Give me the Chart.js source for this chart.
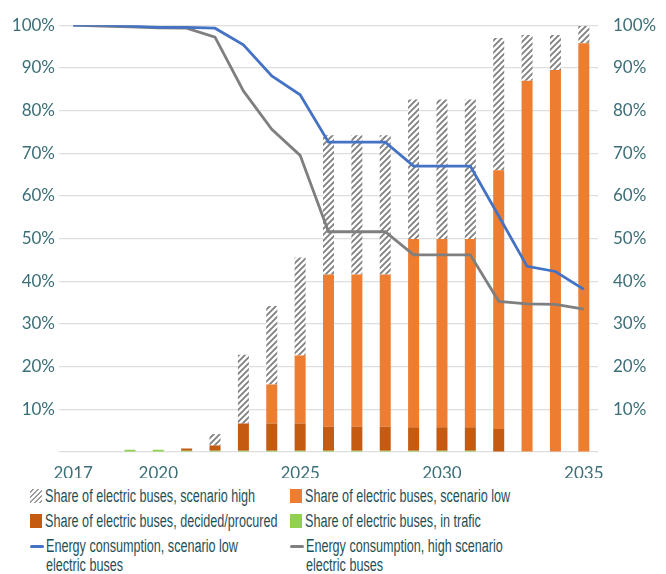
<!DOCTYPE html>
<html>
<head>
    <title>Electric buses and energy consumption</title>
    <script src="https://cdn.jsdelivr.net/npm/chart.js"></script>
    <style>
        body { margin: 0; background: #fff; }
        #wrap { position: relative; width: 666px; height: 478px; }
        #legend {
            display: grid;
            grid-template-columns: 260px 380px;
            margin-left: 30px;
            margin-top: 9px;
            row-gap: 6px;
            font-family: "Liberation Sans", sans-serif;
            font-size: 18px;
            color: #1f4f57;
            line-height: 19px;
        }
        .item { display: flex; align-items: flex-start; white-space: nowrap; }
        .txt { display: inline-block; transform: scaleX(0.7); transform-origin: left top; }
        .sw { flex: none; width: 12px; height: 14px; margin-right: 3px; margin-top: 2px; }
        .ln { flex: none; width: 14px; height: 3px; margin-right: 2px; margin-top: 8px; border-radius: 2px; }
    </style>
</head>
<body>
    <div id="wrap"><canvas id="myChart"></canvas></div>
    <div id="legend"></div>
    <script>
        const years = ['2017', '2018', '2019', '2020', '2021', '2022', '2023', '2024', '2025', '2026',
                       '2027', '2028', '2029', '2030', '2031', '2032', '2033', '2034', '2035'];
        const tickYears = ['2017', '2020', '2025', '2030', '2035'];

        // stacked bar parts, in % of buses
        const inTrafic = [0, 0, 0.5, 0.5, 0.3, 0.3, 0.3, 0.3, 0.3, 0.3, 0.3, 0.3, 0.3, 0.3, 0.3, 0, 0, 0, 0];
        const decided = [0, 0, 0, 0, 0.5, 1.2, 6.4, 6.4, 6.4, 5.6, 5.6, 5.6, 5.5, 5.5, 5.5, 5.4, 0, 0, 0];
        const scenarioLow = [0, 0, 0, 0, 0, 0, 0, 9.1, 15.9, 35.7, 35.7, 35.7, 44.1, 44.1, 44.1, 60.6, 87, 89.5, 95.8];
        const scenarioHigh = [0, 0, 0, 0, 0, 2.7, 16.1, 18.4, 23, 32.6, 32.6, 32.6, 32.7, 32.7, 32.7, 31, 10.7, 8.2, 4];

        // energy consumption, % of today
        const energyLow = [100, 100, 99.8, 99.5, 99.5, 99.3, 95.4, 88.1, 83.7, 72.6, 72.6, 72.6, 67, 67, 67, 55.3, 43.5, 42.3, 38.1];
        const energyHigh = [100, 99.8, 99.6, 99.4, 99.3, 97.2, 84.6, 75.6, 69.5, 51.6, 51.6, 51.6, 46.2, 46.2, 46.2, 35.3, 34.7, 34.6, 33.5];

        const labelHigh = 'Share of electric buses, scenario high';
        const labelLow = 'Share of electric buses, scenario low';
        const labelDecided = 'Share of electric buses, decided/procured';
        const labelTrafic = 'Share of electric buses, in trafic';
        const labelELow = ['Energy consumption, scenario low', 'electric buses'];
        const labelEHigh = ['Energy consumption, high scenario', 'electric buses'];

        // hatch pattern for the high scenario
        function hatch() {
            const c = document.createElement('canvas');
            c.width = 6; c.height = 6;
            const g = c.getContext('2d');
            g.fillStyle = '#fff';
            g.fillRect(0, 0, 6, 6);
            g.strokeStyle = '#7f7f7f';
            g.lineWidth = 1.8;
            g.beginPath();
            g.moveTo(-1, 7); g.lineTo(7, -1);
            g.moveTo(-1, 1); g.lineTo(1, -1);
            g.moveTo(5, 7); g.lineTo(7, 5);
            g.stroke();
            return g.createPattern(c, 'repeat');
        }

        const tickColor = '#3b6e76';
        const tickFont = { family: 'Lato', size: 17 };

        const ctx = document.getElementById('myChart').getContext('2d');
        const myChart = new Chart(ctx, {
            type: 'bar',
            data: {
                labels: years,
                datasets: [
                    { type: 'line', label: labelELow.join(' '), data: energyLow, yAxisID: 'yR', borderColor: '#4472c4',
                      borderWidth: 2.8, pointRadius: 0, tension: 0, order: 0 },
                    { type: 'line', label: labelEHigh.join(' '), data: energyHigh, yAxisID: 'yR', borderColor: '#7f7f7f',
                      borderWidth: 2.8, pointRadius: 0, tension: 0, order: 0 },
                    { label: labelTrafic, data: inTrafic, backgroundColor: '#92d050', order: 1 },
                    { label: labelDecided, data: decided, backgroundColor: '#c55a11', order: 1 },
                    { label: labelLow, data: scenarioLow, backgroundColor: '#ed7d31', order: 1 },
                    { label: labelHigh, data: scenarioHigh, backgroundColor: hatch(), order: 1 }
                ]
            },
            options: {
                responsive: true,
                maintainAspectRatio: false,
                animation: false,
                layout: { autoPadding: false, padding: { top: 22, left: 0, right: 0, bottom: 0 } },
                datasets: { bar: { barThickness: 11, inflateAmount: 0 } },
                plugins: { legend: { display: false }, tooltip: { enabled: false } },
                scales: {
                    x: {
                        stacked: true,
                        grid: { display: false },
                        border: { display: false },
                        ticks: {
                            autoSkip: false, maxRotation: 0, color: tickColor, font: tickFont,
                            callback: function (v) { const y = years[v]; return tickYears.includes(y) ? y : ''; }
                        },
                        afterFit: function (s) { s.height = 26; }
                    },
                    y: {
                        stacked: true, min: 0, max: 100, position: 'left',
                        grid: { color: '#dedede', lineWidth: 1.2, drawTicks: false },
                        border: { display: false },
                        ticks: {
                            stepSize: 10, color: tickColor, font: tickFont, padding: 4,
                            callback: v => v === 0 ? '' : v + '%'
                        },
                        afterFit: function (s) { s.width = 59; }
                    },
                    yR: {
                        min: 0, max: 100, position: 'right',
                        grid: { drawOnChartArea: false, drawTicks: false },
                        border: { display: false },
                        ticks: {
                            stepSize: 10, color: tickColor, font: tickFont, padding: 15,
                            callback: v => v === 0 ? '' : v + '%'
                        },
                        afterFit: function (s) { s.width = 68; }
                    }
                }
            }
        });

        // legend in two columns
        const legendItems = [
            { label: [labelHigh], css: 'background: repeating-linear-gradient(135deg, #fff 0 2px, #9a9a9a 2px 3.5px);', line: false },
            { label: [labelLow], css: 'background: #ed7d31;', line: false },
            { label: [labelDecided], css: 'background: #c55a11;', line: false },
            { label: [labelTrafic], css: 'background: #92d050;', line: false },
            { label: labelELow, css: 'background: #4472c4;', line: true },
            { label: labelEHigh, css: 'background: #7f7f7f;', line: true }
        ];
        const legend = document.getElementById('legend');
        legendItems.forEach(it => {
            const d = document.createElement('div');
            d.className = 'item';
            const s = document.createElement('span');
            s.className = it.line ? 'ln' : 'sw';
            s.style.cssText = it.css;
            const t = document.createElement('span');
            t.className = 'txt';
            it.label.forEach((l, i) => {
                if (i > 0) t.appendChild(document.createElement('br'));
                t.appendChild(document.createTextNode(l));
            });
            d.appendChild(s);
            d.appendChild(t);
            legend.appendChild(d);
        });
    </script>
</body>
</html>
